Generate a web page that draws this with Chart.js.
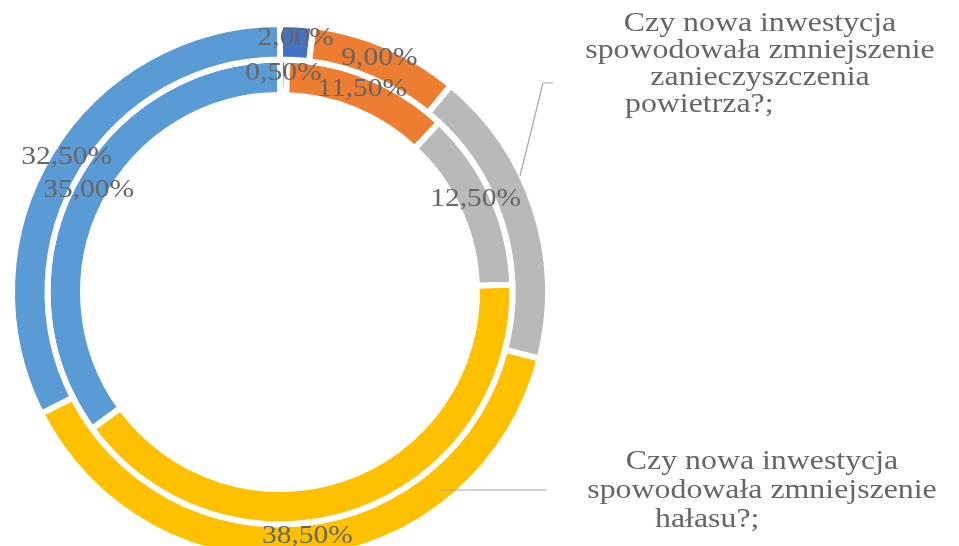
<!DOCTYPE html>
<html lang="pl">
<head>
<meta charset="utf-8">
<title>Wpływ nowej inwestycji</title>
<script src="https://cdn.jsdelivr.net/npm/chart.js@4.4.1/dist/chart.umd.min.js"></script>
<style>
    html, body { margin: 0; padding: 0; background: #ffffff; overflow: hidden; }
    #wrap { position: relative; width: 959px; height: 580px; }
</style>
</head>
<body>
<div id="wrap"><canvas id="donut"></canvas></div>
<script>
// answer categories (same order in both rings)
const categories = ['Odpowiedź 1', 'Odpowiedź 2', 'Odpowiedź 3', 'Odpowiedź 4', 'Odpowiedź 5'];
const sliceColors = ['#4472C4', '#ED7D31', '#B9B9B9', '#FFC000', '#5B9BD5'];

// outer ring: air pollution question, inner ring: noise question (percent)
const airValues = [2.00, 9.00, 18.00, 38.50, 32.50];
const noiseValues = [0.50, 11.50, 12.50, 40.50, 35.00];

// which slice labels are shown on the ring
const airShown = [true, true, false, true, true];
const noiseShown = [true, true, true, false, true];

const airTitle = ['Czy nowa inwestycja', 'spowodowała zmniejszenie', 'zanieczyszczenia'];
const airTail = 'powietrza?;';
const noiseTitle = ['Czy nowa inwestycja', 'spowodowała zmniejszenie'];
const noiseTail = 'hałasu?;';

const textColor = '#666666';
const stretch = 1.18;

function fmt(v) {
    return v.toFixed(2).replace('.', ',') + '%';
}

function wideText(ctx, text, x, y, align) {
    ctx.save();
    ctx.translate(x, y);
    ctx.scale(stretch, 1);
    ctx.textAlign = align;
    ctx.fillText(text, 0, 0);
    ctx.restore();
}

// values drawn at each arc's centre
const sliceLabels = {
    id: 'sliceLabels',
    afterDatasetsDraw(chart) {
        const ctx = chart.ctx;
        const shown = [airShown, noiseShown];
        ctx.save();
        ctx.font = '25px "Liberation Serif", "DejaVu Serif", serif';
        ctx.fillStyle = textColor;
        ctx.textBaseline = 'middle';
        chart.data.datasets.forEach((ds, di) => {
            chart.getDatasetMeta(di).data.forEach((arc, i) => {
                if (!shown[di][i]) return;
                const p = arc.tooltipPosition();
                wideText(ctx, fmt(ds.data[i]), p.x, p.y - 4, 'center');
            });
        });
        ctx.restore();
    }
};

// series names on the right with their leader lines
const seriesNames = {
    id: 'seriesNames',
    afterDraw(chart) {
        const ctx = chart.ctx;
        ctx.save();
        ctx.strokeStyle = '#a6a6a6';
        ctx.lineWidth = 1.2;
        ctx.beginPath();
        ctx.moveTo(553, 83);
        ctx.lineTo(543, 83);
        ctx.lineTo(520, 176);
        ctx.stroke();
        ctx.beginPath();
        ctx.moveTo(440, 490);
        ctx.lineTo(546, 490);
        ctx.stroke();

        ctx.font = '27px "Liberation Serif", "DejaVu Serif", serif';
        ctx.fillStyle = textColor;
        ctx.textBaseline = 'middle';
        airTitle.forEach((line, i) => wideText(ctx, line, 760, 24 + i * 27, 'center'));
        wideText(ctx, airTail, 625, 24 + airTitle.length * 27, 'left');
        noiseTitle.forEach((line, i) => wideText(ctx, line, 762, 462 + i * 29, 'center'));
        wideText(ctx, noiseTail, 655, 462 + noiseTitle.length * 29, 'left');
        ctx.restore();
    }
};

new Chart(document.getElementById('donut'), {
    type: 'doughnut',
    data: {
        labels: categories,
        datasets: [
            {
                label: 'Zanieczyszczenie powietrza',
                data: airValues,
                backgroundColor: sliceColors,
                borderColor: '#ffffff',
                borderWidth: 6,
                borderJoinStyle: 'miter'
            },
            {
                label: 'Hałas',
                data: noiseValues,
                backgroundColor: sliceColors,
                borderColor: '#ffffff',
                borderWidth: 6,
                borderJoinStyle: 'miter'
            }
        ]
    },
    options: {
        responsive: true,
        maintainAspectRatio: false,
        animation: false,
        cutout: '73.5%',
        layout: { padding: { left: 9, top: 21, right: 408, bottom: 17 } },
        plugins: {
            legend: { display: false },
            tooltip: { enabled: false }
        }
    },
    plugins: [sliceLabels, seriesNames]
});
</script>
</body>
</html>
